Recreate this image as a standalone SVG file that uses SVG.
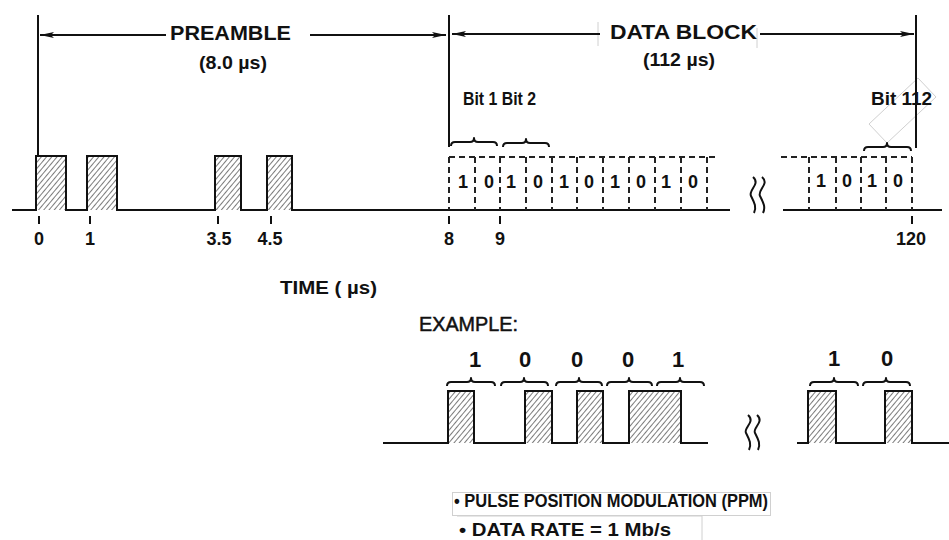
<svg xmlns="http://www.w3.org/2000/svg" width="949" height="540" viewBox="0 0 949 540">
<defs>
<pattern id="hatch" patternUnits="userSpaceOnUse" width="4" height="4" patternTransform="rotate(40)">
<line x1="0" y1="0" x2="0" y2="4" stroke="#222" stroke-width="1.2"/>
</pattern>
<marker id="arr" markerUnits="userSpaceOnUse" markerWidth="16" markerHeight="8" refX="14" refY="4" orient="auto-start-reverse">
<path d="M0,1 L14,4 L0,7 L3,4 z" fill="#111"/>
</marker>
<style>
.t{font-family:"Liberation Sans",Arial,sans-serif;fill:#111}
.b{font-weight:bold}
.w{fill:none;stroke:#111;stroke-width:2}
.d{fill:none;stroke:#222;stroke-width:2;stroke-dasharray:6 4}
.p{fill:url(#hatch);stroke:none}
.f{fill:none;stroke:#d0d0d0;stroke-width:1}
.br{fill:none;stroke:#111;stroke-width:2;stroke-linejoin:round}
</style>
</defs>
<rect width="949" height="540" fill="#fff"/>

<g id="faint">
<line class="f" x1="598" y1="22" x2="598" y2="46"/>
<line class="f" x1="757" y1="28" x2="757" y2="48"/>
<polygon class="f" points="918,78 936,97 887,143 869,124"/>
<rect class="f" x="452.5" y="492.5" width="318" height="23"/>
<polyline class="f" points="457,516 702,516 702,540"/>
</g>

<g id="connectors">
<line class="w" x1="38" y1="15" x2="38" y2="156"/>
<line class="w" x1="449" y1="15" x2="449" y2="147"/>
<line class="w" x1="916" y1="15" x2="916" y2="148"/>
<line class="w" x1="40" y1="35" x2="166" y2="35" marker-start="url(#arr)"/>
<line class="w" x1="310" y1="35" x2="446" y2="35" marker-end="url(#arr)"/>
<line class="w" x1="452" y1="34" x2="600" y2="34" marker-start="url(#arr)"/>
<line class="w" x1="760" y1="34" x2="914" y2="34" marker-end="url(#arr)"/>
</g>

<g id="labels-top">
<text class="t b" x="170" y="40" font-size="21" textLength="121" lengthAdjust="spacingAndGlyphs">PREAMBLE</text>
<text class="t b" x="199" y="69" font-size="18" textLength="68" lengthAdjust="spacingAndGlyphs">(8.0 µs)</text>
<text class="t b" x="610" y="39" font-size="21" textLength="147" lengthAdjust="spacingAndGlyphs">DATA BLOCK</text>
<text class="t b" x="643" y="66" font-size="18" textLength="72" lengthAdjust="spacingAndGlyphs">(112 µs)</text>
<text class="t b" x="463" y="105" font-size="18" textLength="73" lengthAdjust="spacingAndGlyphs">Bit 1  Bit 2</text>
<text class="t b" x="871" y="105" font-size="18" textLength="61" lengthAdjust="spacingAndGlyphs">Bit 112</text>
</g>

<g id="preamble-pulses">
<rect class="p" x="36" y="156" width="30" height="54"/>
<rect class="p" x="87" y="156" width="30" height="54"/>
<rect class="p" x="215" y="156" width="26" height="54"/>
<rect class="p" x="267" y="156" width="25" height="54"/>
<path class="w" d="M12,210 H36 V156 H66 V210 H87 V156 H117 V210 H215 V156 H241 V210 H267 V156 H292 V210 H730"/>
<path class="w" d="M783,210 H942"/>
</g>

<g id="data-cells">
<path class="d" d="M449,157 H719"/>
<path class="d" d="M449,157 V210 M475,157 V210 M500,157 V210 M526,157 V210 M552,157 V210 M577,157 V210 M603,157 V210 M629,157 V210 M655,157 V210 M681,157 V210 M707,157 V210"/>
<path class="d" d="M781,157 H912"/>
<path class="d" d="M809,157 V210 M836,157 V210 M861,157 V210 M886,157 V210 M912,157 V210"/>
<g class="t b" font-size="18" text-anchor="middle">
<text x="463" y="188">1</text><text x="489" y="188">0</text>
<text x="511" y="188">1</text><text x="538" y="188">0</text>
<text x="564" y="188">1</text><text x="589" y="188">0</text>
<text x="615" y="188">1</text><text x="641" y="188">0</text>
<text x="666" y="188">1</text><text x="693" y="188">0</text>
<text x="821" y="187">1</text><text x="847" y="187">0</text>
<text x="872" y="187">1</text><text x="898" y="187">0</text>
</g>
<path class="br" d="M451,146 Q451,142 455,142 H470 Q474,142 474,138 Q474,142 478,142 H493 Q497,142 497,146"/>
<path class="br" d="M503,147 Q503,143 507,143 H522 Q526,143 526,139 Q526,143 530,143 H545 Q549,143 549,147"/>
<path class="br" d="M864,151 Q864,147 868,147 H883 Q887,147 887,143 Q887,147 891,147 H907 Q911,147 911,151"/>
</g>

<g id="break-top">
<path class="w" d="M753,177 C761,184 748,190 751,196 C754,202 757,207 754,213"/>
<path class="w" d="M762,177 C770,184 757,190 760,196 C763,202 766,207 763,213"/>
</g>

<g id="axis-ticks">
<path class="w" d="M39,216 V224 M90,216 V224 M218,216 V224 M271,216 V224 M449,216 V224 M500,216 V224 M912,216 V224"/>
<g class="t b" font-size="18" text-anchor="middle">
<text x="39" y="245">0</text>
<text x="90" y="245">1</text>
<text x="219" y="245">3.5</text>
<text x="270" y="245">4.5</text>
<text x="449" y="245">8</text>
<text x="500" y="245">9</text>
<text x="911" y="245">120</text>
</g>
<text class="t b" x="280" y="294" font-size="19" textLength="97" lengthAdjust="spacingAndGlyphs">TIME ( µs)</text>
</g>

<g id="example">
<text class="t" x="419" y="331" font-size="20" textLength="99" lengthAdjust="spacingAndGlyphs" stroke="#111" stroke-width="0.5">EXAMPLE:</text>
<g class="t b" font-size="22" text-anchor="middle">
<text x="475" y="367">1</text><text x="525" y="367">0</text><text x="577" y="367">0</text><text x="628" y="367">0</text><text x="678" y="367">1</text>
<text x="834" y="366">1</text><text x="887" y="366">0</text>
</g>
<path class="br" d="M447,386 Q447,382 451,382 H467 Q471,382 471,378 Q471,382 475,382 H491 Q495,382 495,386"/>
<path class="br" d="M501,386 Q501,382 505,382 H520 Q524,382 524,378 Q524,382 528,382 H544 Q548,382 548,386"/>
<path class="br" d="M556,386 Q556,382 560,382 H575 Q579,382 579,378 Q579,382 583,382 H598 Q602,382 602,386"/>
<path class="br" d="M607,386 Q607,382 611,382 H625 Q629,382 629,378 Q629,382 633,382 H648 Q652,382 652,386"/>
<path class="br" d="M657,386 Q657,382 661,382 H676 Q680,382 680,378 Q680,382 684,382 H700 Q704,382 704,386"/>
<path class="br" d="M810,386 Q810,382 814,382 H830 Q834,382 834,378 Q834,382 838,382 H854 Q858,382 858,386"/>
<path class="br" d="M863,386 Q863,382 867,382 H882 Q886,382 886,378 Q886,382 890,382 H906 Q910,382 910,386"/>
<rect class="p" x="448" y="391" width="26" height="52"/>
<rect class="p" x="525" y="391" width="27" height="52"/>
<rect class="p" x="577" y="391" width="26" height="52"/>
<rect class="p" x="629" y="391" width="52" height="52"/>
<rect class="p" x="808" y="391" width="28" height="52"/>
<rect class="p" x="885" y="391" width="27" height="52"/>
<path class="w" d="M383,443 H448 V391 H474 V443 H525 V391 H552 V443 H577 V391 H603 V443 H629 V391 H681 V443 H708"/>
<path class="w" d="M797,443 H808 V391 H836 V443 H885 V391 H912 V443 H949"/>
<path class="w" d="M748,415 C756,422 743,428 746,433 C749,439 752,444 749,450"/>
<path class="w" d="M757,415 C765,422 752,428 755,433 C758,439 761,444 758,450"/>
</g>

<g id="notes">
<text class="t b" x="454" y="507" font-size="18" textLength="314" lengthAdjust="spacingAndGlyphs">• PULSE POSITION MODULATION (PPM)</text>
<text class="t b" x="459" y="536" font-size="19" textLength="212" lengthAdjust="spacingAndGlyphs">• DATA RATE = 1 Mb/s</text>
</g>
</svg>
